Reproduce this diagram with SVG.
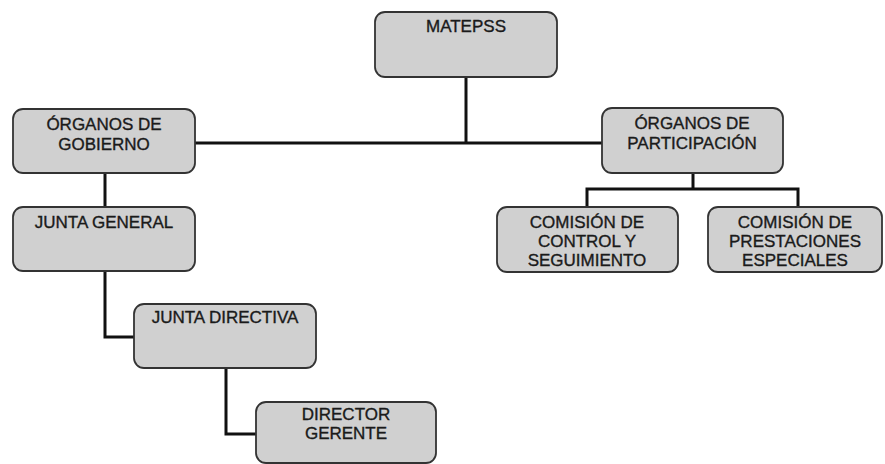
<svg xmlns="http://www.w3.org/2000/svg" width="885" height="464" viewBox="0 0 885 464">
<style>
.box{fill:#d0d0d0;stroke:#333;stroke-width:1.8}
.t{font-family:"Liberation Sans",Arial,sans-serif;font-size:17px;fill:#1a1a1a;stroke:#1a1a1a;stroke-width:0.35;text-anchor:middle}
.c{fill:none;stroke:#111;stroke-width:3}
</style>
<rect width="885" height="464" fill="#fff"/>
<g id="connectors">
<path class="c" d="M466,77 V143"/>
<path class="c" d="M195,143 H602"/>
<path class="c" d="M105,173 V207"/>
<path class="c" d="M105,271 V337 H134"/>
<path class="c" d="M226,368 V434 H256"/>
<path class="c" d="M693,173 V189"/>
<path class="c" d="M587,207 V189 H798 V207"/>
</g>
<g id="matepss">
<rect class="box" x="375" y="12" width="182" height="65" rx="10"/>
<text class="t" x="466" y="32">MATEPSS</text>
</g>
<g id="organos-gobierno">
<rect class="box" x="13" y="109" width="182" height="64" rx="10"/>
<text class="t" x="104" y="130">ÓRGANOS DE</text>
<text class="t" x="104" y="150">GOBIERNO</text>
</g>
<g id="organos-participacion">
<rect class="box" x="602" y="108" width="181" height="65" rx="10"/>
<text class="t" x="692" y="129">ÓRGANOS DE</text>
<text class="t" x="692" y="149">PARTICIPACIÓN</text>
</g>
<g id="junta-general">
<rect class="box" x="13" y="207" width="182" height="64" rx="10"/>
<text class="t" x="104" y="228">JUNTA GENERAL</text>
</g>
<g id="junta-directiva">
<rect class="box" x="134" y="304" width="182" height="64" rx="10"/>
<text class="t" x="225" y="323">JUNTA DIRECTIVA</text>
</g>
<g id="director-gerente">
<rect class="box" x="256" y="402" width="180" height="61" rx="10"/>
<text class="t" x="346" y="420">DIRECTOR</text>
<text class="t" x="346" y="439">GERENTE</text>
</g>
<g id="comision-control">
<rect class="box" x="497" y="207" width="181" height="65" rx="10"/>
<text class="t" x="587" y="228">COMISIÓN DE</text>
<text class="t" x="587" y="247">CONTROL Y</text>
<text class="t" x="587" y="266">SEGUIMIENTO</text>
</g>
<g id="comision-prestaciones">
<rect class="box" x="708" y="207" width="174" height="65" rx="10"/>
<text class="t" x="795" y="228">COMISIÓN DE</text>
<text class="t" x="795" y="247">PRESTACIONES</text>
<text class="t" x="795" y="266">ESPECIALES</text>
</g>
</svg>
